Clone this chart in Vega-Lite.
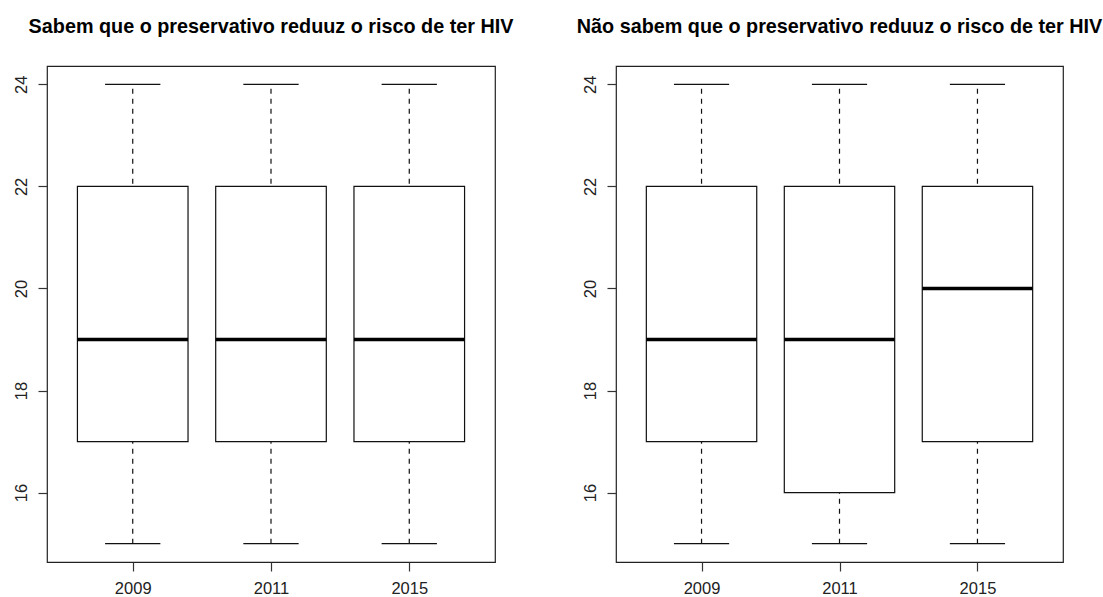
{
  "$schema": "https://vega.github.io/schema/vega-lite/v6.json",
  "background": "white",
  "padding": {"left": 12, "top": 16, "right": 0, "bottom": 0},
  "bounds": "flush",
  "spacing": 121,
  "datasets": {
    "sabem": [
      {"year": "2009", "min": 15, "q1": 17, "median": 19, "q3": 22, "max": 24},
      {"year": "2011", "min": 15, "q1": 17, "median": 19, "q3": 22, "max": 24},
      {"year": "2015", "min": 15, "q1": 17, "median": 19, "q3": 22, "max": 24}
    ],
    "naosabem": [
      {"year": "2009", "min": 15, "q1": 17, "median": 19, "q3": 22, "max": 24},
      {"year": "2011", "min": 15, "q1": 16, "median": 19, "q3": 22, "max": 24},
      {"year": "2015", "min": 15, "q1": 17, "median": 20, "q3": 22, "max": 24}
    ]
  },
  "config": {
    "font": "Liberation Sans",
    "view": {"stroke": "#222", "strokeWidth": 1.2},
    "axis": {
      "grid": false,
      "domain": false,
      "tickSize": 9,
      "tickColor": "#333",
      "tickWidth": 1.2,
      "labelFontSize": 16.5,
      "labelColor": "#222",
      "labelFont": "Liberation Sans",
      "title": null
    },
    "title": {
      "font": "Liberation Sans",
      "fontSize": 19.8,
      "fontWeight": "bold",
      "color": "#000",
      "anchor": "middle",
      "baseline": "alphabetic",
      "offset": 29
    }
  },
  "hconcat": [
    {
      "title": "Sabem que o preservativo reduuz o risco de ter HIV",
      "width": 448,
      "height": 496,
      "data": {"name": "sabem"},
      "encoding": {
        "x": {
          "field": "year", "type": "ordinal",
          "scale": {"type": "point", "padding": 0.62, "domain": ["2009", "2011", "2015"]},
          "axis": {"labelAngle": 0, "labelPadding": 9}
        }
      },
      "layer": [
        {
          "mark": {"type": "rule", "stroke": "#111", "strokeWidth": 1.2, "strokeDash": [5, 5]},
          "encoding": {
            "y": {"field": "min", "type": "quantitative",
              "scale": {"domain": [14.64, 24.36], "nice": false, "zero": false},
              "axis": {"values": [16, 18, 20, 22, 24], "labelAngle": -90, "labelAlign": "center", "labelBaseline": "alphabetic", "labelPadding": 12}},
            "y2": {"field": "max"}
          }
        },
        {
          "mark": {"type": "bar", "fill": "white", "stroke": "#111", "strokeWidth": 1.2, "size": 110.6},
          "encoding": {
            "y": {"field": "q1", "type": "quantitative"},
            "y2": {"field": "q3"}
          }
        },
        {
          "mark": {"type": "tick", "color": "#111", "opacity": 1, "thickness": 1.2, "size": 55.3},
          "encoding": {"y": {"field": "min", "type": "quantitative"}}
        },
        {
          "mark": {"type": "tick", "color": "#111", "opacity": 1, "thickness": 1.2, "size": 55.3},
          "encoding": {"y": {"field": "max", "type": "quantitative"}}
        },
        {
          "mark": {"type": "tick", "color": "#000", "opacity": 1, "thickness": 3.5, "size": 110.6},
          "encoding": {"y": {"field": "median", "type": "quantitative"}}
        }
      ]
    },
    {
      "title": "Não sabem que o preservativo reduuz o risco de ter HIV",
      "width": 447,
      "height": 496,
      "data": {"name": "naosabem"},
      "encoding": {
        "x": {
          "field": "year", "type": "ordinal",
          "scale": {"type": "point", "padding": 0.62, "domain": ["2009", "2011", "2015"]},
          "axis": {"labelAngle": 0, "labelPadding": 9}
        }
      },
      "layer": [
        {
          "mark": {"type": "rule", "stroke": "#111", "strokeWidth": 1.2, "strokeDash": [5, 5]},
          "encoding": {
            "y": {"field": "min", "type": "quantitative",
              "scale": {"domain": [14.64, 24.36], "nice": false, "zero": false},
              "axis": {"values": [16, 18, 20, 22, 24], "labelAngle": -90, "labelAlign": "center", "labelBaseline": "alphabetic", "labelPadding": 12}},
            "y2": {"field": "max"}
          }
        },
        {
          "mark": {"type": "bar", "fill": "white", "stroke": "#111", "strokeWidth": 1.2, "size": 110.4},
          "encoding": {
            "y": {"field": "q1", "type": "quantitative"},
            "y2": {"field": "q3"}
          }
        },
        {
          "mark": {"type": "tick", "color": "#111", "opacity": 1, "thickness": 1.2, "size": 55.2},
          "encoding": {"y": {"field": "min", "type": "quantitative"}}
        },
        {
          "mark": {"type": "tick", "color": "#111", "opacity": 1, "thickness": 1.2, "size": 55.2},
          "encoding": {"y": {"field": "max", "type": "quantitative"}}
        },
        {
          "mark": {"type": "tick", "color": "#000", "opacity": 1, "thickness": 3.5, "size": 110.4},
          "encoding": {"y": {"field": "median", "type": "quantitative"}}
        }
      ]
    }
  ]
}
